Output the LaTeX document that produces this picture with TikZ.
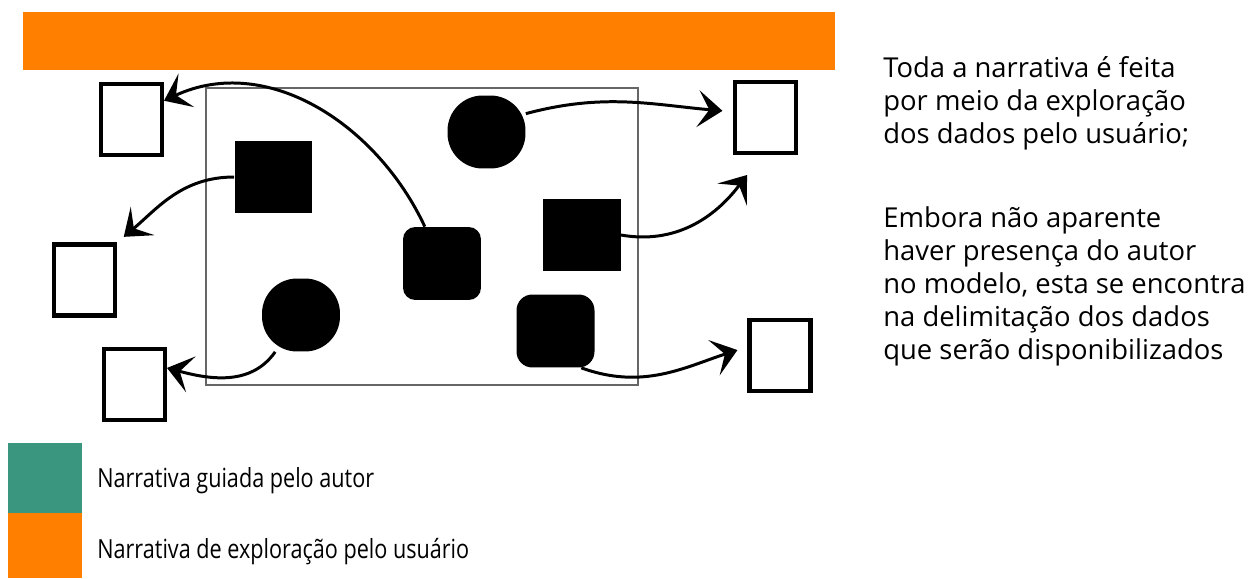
\documentclass[tikz,border=0pt]{standalone}
\usepackage{fontspec}
\setmainfont{Open Sans}
\newfontfamily\legfont[FakeStretch=0.82]{Open Sans}
\usetikzlibrary{arrows.meta,positioning}

\definecolor{userorange}{RGB}{255,128,0}
\definecolor{authorteal}{RGB}{58,150,126}

\tikzset{
	databox/.style={draw, line width=2.3pt, minimum width=1.22cm, minimum height=1.42cm, inner sep=0pt},
	datum/.style={fill=black, inner sep=0pt, minimum width=1.56cm, minimum height=1.46cm},
	flow/.style={-{Stealth[length=14pt,width=21pt,inset=6.5pt]}, line width=1.7pt},
	nota/.style={anchor=north west, align=left, inner sep=0pt, font=\fontsize{15.6}{18.8}\selectfont},
	legenda/.style={anchor=base west, inner sep=0pt, font=\legfont\fontsize{15}{16}\selectfont}
}

\begin{document}
\begin{tikzpicture}[x=0.02cm, y=-0.02cm]
	\useasboundingbox (0,0) rectangle (1254,578);
	
	% barra de exploracao
	\fill[userorange] (23,12) rectangle (835,70);
	
	% delimitacao dos dados
	\node[draw=black!60, line width=0.85pt, minimum width=8.64cm, minimum height=5.94cm, inner sep=0pt] (dados) at (422,236.5) {};
	
	% caixas brancas
	\foreach \n/\x/\y in {l1/131.5/119.5, l2/84.5/280, l3/134.5/384.5, r1/765.5/117.5, r2/780/355.5} {
		\node[databox] (\n) at (\x,\y) {};
	}
	
	% dados
	\node[datum] (s1) at (273.5,177) {};
	\node[datum] (s2) at (581.5,235) {};
	\node[datum, rounded corners=7pt] (a) at (442,263.5) {};
	\node[datum, rounded corners=9pt] (b) at (555.5,331) {};
	\node[datum, rounded corners=20pt] (c1) at (486.5,132) {};
	\node[datum, rounded corners=20pt] (c2) at (301,315) {};
	\coordinate (s2end) at (747,175);
	
	% setas
	\draw[flow] (a.115) to[out=115, in=25] (l1.30);
	\draw[flow, shorten >=5pt] (s1.west) to[out=180, in=40] (l2.north east);
	\draw[flow] (c2.235) to[out=235, in=-15] (l3.27);
	\draw[flow, shorten >=6pt] (c1.25) to[out=15, in=175] (r1.170);
	\draw[flow] (s2.east) to[out=-10, in=233] (s2end);
	\draw[flow, shorten >=6pt] (b.-55) to[out=-20, in=198] (r2.165);
	
	% texto
	\node[nota] (nota1) at (883,56) {Toda a narrativa é feita\\por meio da exploração\\dos dados pelo usuário;};
	\node[nota] (nota2) at (883,206) {Embora não aparente\\haver presença do autor\\no modelo, esta se encontra\\na delimitação dos dados\\que serão disponibilizados};
	
	% legenda
	\node[fill=authorteal, minimum width=1.48cm, minimum height=1.4cm, inner sep=0pt] (autor) at (45,478) {};
	\node[fill=userorange, minimum width=1.48cm, minimum height=1.3cm, inner sep=0pt] (usuario) at (45,545.5) {};
	\node[legenda] (leg1) at (97,487) {Narrativa guiada pelo autor};
	\node[legenda] (leg2) at (97,558) {Narrativa de exploração pelo usuário};
\end{tikzpicture}
\end{document}
